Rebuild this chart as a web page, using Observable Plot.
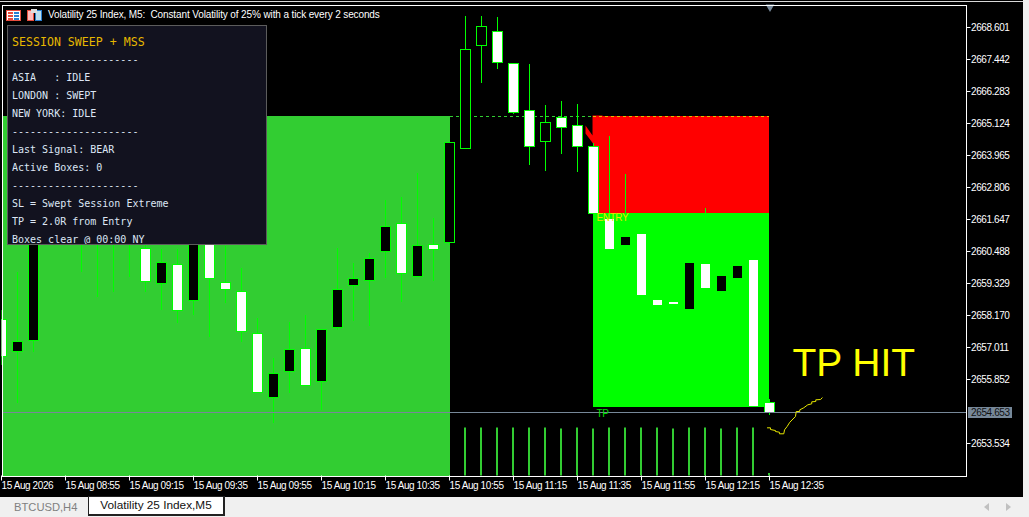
<!DOCTYPE html>
<html><head><meta charset="utf-8">
<script src="https://cdn.jsdelivr.net/npm/d3@7"></script>
<script src="https://cdn.jsdelivr.net/npm/@observablehq/plot@0.6"></script>
<style>
html,body{margin:0;padding:0;background:#f0f0f0;width:1029px;height:517px;overflow:hidden}
#stage{position:relative;width:1029px;height:517px;overflow:hidden}
#chart svg{display:block;background:#000}
.ov{position:absolute;white-space:pre}
#hdr1{left:0;top:1px;width:1023px;height:1px;background:#d8d8d8}
#title{left:48px;top:8px;font:10px/14px "Liberation Sans",sans-serif;letter-spacing:-0.12px;color:#fff}
#panel{left:7px;top:25px;width:258px;height:218px;background:#12121f;border:1px solid #5c5c5c;overflow:hidden;font:10px/18px "DejaVu Sans Mono",monospace;color:#dde6f5}
#panel div{position:absolute;left:4px}
#panel .h{font-size:11.6px;color:#e6b800}
#tab0{left:14px;top:499px;font:11.2px/16px "Liberation Sans",sans-serif;color:#808080}
#tab1{left:88px;top:496px;width:134px;height:17px;background:#fff;border:1px solid #222;border-right-width:2px;border-bottom-width:2px;font:11.8px/17px "Liberation Sans",sans-serif;color:#111;text-align:center}
.arr{top:503px;width:0;height:0;border-top:4px solid transparent;border-bottom:4px solid transparent}
svg text{letter-spacing:-0.4px}
</style></head>
<body>
<div id="stage"><div id="chart"></div></div>
<script>
const opens = [2658.043,2656.884,2657.282,2663.440,2661.810,2661.086,2662.353,2660.977,2662.353,2660.614,2659.311,2660.035,2658.731,2661.194,2659.383,2659.057,2657.500,2655.218,2656.159,2656.992,2655.797,2657.753,2659.274,2659.455,2660.470,2661.484,2659.600,2660.759,2660.832,2664.236,2667.931,2668.474,2667.315,2665.577,2664.490,2665.359,2665.069,2664.309,2661.701,2660.723,2661.158,2658.767,2658.695,2658.405,2660.071,2659.057,2659.492,2660.216,2655.037];
const closes = [2656.703,2657.246,2661.266,2661.991,2663.077,2662.715,2660.904,2662.172,2661.086,2659.419,2660.107,2658.369,2661.086,2659.492,2659.129,2657.608,2655.399,2656.087,2656.956,2655.652,2657.681,2659.129,2659.528,2660.252,2661.411,2659.709,2660.723,2660.578,2664.418,2667.822,2668.655,2667.351,2665.540,2664.273,2665.178,2664.961,2664.309,2661.882,2660.578,2661.049,2658.912,2658.550,2658.586,2660.107,2659.166,2659.636,2659.999,2654.892,2654.674];
const highs = [2658.376,2659.745,2661.556,2664.164,2663.621,2663.440,2663.077,2662.896,2662.715,2660.977,2660.578,2660.578,2661.448,2661.556,2660.687,2659.890,2658.079,2656.630,2657.934,2658.188,2657.681,2660.614,2660.071,2660.433,2662.353,2662.462,2663.331,2661.701,2664.418,2669.017,2669.017,2668.981,2667.315,2667.279,2665.794,2665.939,2665.830,2664.418,2664.671,2663.295,2661.158,2658.912,2658.912,2660.542,2662.063,2660.180,2660.542,2660.904,2655.145];
const lows = [2656.377,2655.000,2656.848,2661.194,2660.977,2659.745,2658.840,2659.021,2659.564,2659.021,2658.369,2657.898,2658.188,2657.391,2658.622,2657.210,2655.399,2654.276,2655.363,2655.652,2654.747,2657.644,2657.970,2657.789,2659.528,2658.659,2659.600,2659.419,2660.723,2664.236,2666.591,2667.098,2665.468,2663.621,2663.403,2664.019,2663.367,2661.882,2660.180,2660.180,2658.912,2658.369,2658.369,2658.006,2658.912,2658.731,2658.912,2654.892,2654.566];
const histTops = [2654.113,2654.113,2654.113,2654.113,2654.113,2654.113,2654.113,2654.077,2654.113,2654.077,2654.113,2654.113,2654.113,2654.113,2654.077,2654.113,2654.113,2654.077,2654.113,2654.113,2652.465];
const histStart = 28;
const linePos = [47.84,48.03,48.03,48.34,48.34,48.59,48.59,48.86,48.91,49.07,49.24,49.59,49.64,49.86,49.86,50.11,50.36,50.61,50.61,50.86,50.86,51.16,51.26];
const linePrice = [2654.120,2654.120,2654.059,2654.022,2653.986,2653.961,2653.903,2653.903,2654.048,2654.167,2654.323,2654.529,2654.711,2654.711,2654.772,2654.845,2654.953,2654.989,2655.062,2655.073,2655.134,2655.145,2655.207];
const priceTicks = [2668.601,2667.442,2666.283,2665.124,2663.965,2662.806,2661.647,2660.488,2659.329,2658.170,2657.011,2655.852,2653.534];
const timeIdx = [0,4,8,12,16,20,24,28,32,36,40,44,48];
const timeLabels = ["15 Aug 2026","15 Aug 08:55","15 Aug 09:15","15 Aug 09:35","15 Aug 09:55","15 Aug 10:15","15 Aug 10:35","15 Aug 10:55","15 Aug 11:15","15 Aug 11:35","15 Aug 11:55","15 Aug 12:15","15 Aug 12:35"];
const lastPrice = 2654.653;
const sessionLevel = 2665.39, entryLevel = 2661.88, tpLevel = 2654.855;
const sessionEnd = 28.03, tradeStart = 36.97, tradeEnd = 47.97;
const panelTitle = "SESSION SWEEP + MSS";
const panelLines = ["---------------------","ASIA   : IDLE","LONDON : SWEPT","NEW YORK: IDLE","---------------------","Last Signal: BEAR","Active Boxes: 0","---------------------","SL = Swept Session Extreme","TP = 2.0R from Entry","Boxes clear @ 00:00 NY"];
const chartTitle = "Volatility 25 Index, M5:  Constant Volatility of 25% with a tick every 2 seconds";

const idx = d3.range(opens.length);
const isWhite = i => closes[i] < opens[i];
const halfBody = 5/16;
const yMin = 2652.375, yMax = 2669.434, xMax = 60.25;
const LIME = "#00ff00", SESSION = "#32cd32", SLATE = "#778899";
const SANS = "'Liberation Sans',sans-serif";
const arrowSymbol = {draw(c,size){
  const s = Math.sqrt(size/Math.PI)/17;
  const pts=[[-5,-17],[5,-17],[5,3],[12,-7],[12,1],[0,17],[-12,1],[-12,-7],[-5,3]];
  pts.forEach((p,k)=> k?c.lineTo(p[0]*s,p[1]*s):c.moveTo(p[0]*s,p[1]*s));
  c.closePath();
}};
const crisp = {shapeRendering:"crispEdges"};
const plot = Plot.plot({
  width:1023,height:497,marginLeft:1.5,marginRight:57.5,marginTop:4.5,marginBottom:21.5,
  x:{domain:[0,xMax]},y:{domain:[yMin,yMax]},
  style:{background:"#000",color:"#fff",fontFamily:SANS,fontSize:"10px"},
  marks:[
    Plot.rect([0],{x1:0,x2:sessionEnd,y1:yMin,y2:sessionLevel,fill:SESSION,...crisp}),
    Plot.ruleX(histTops,{x:(d,k)=>histStart+k,y1:yMin,y2:d=>d,stroke:SESSION,strokeWidth:2,dx:-1}),
    Plot.ruleY([sessionLevel],{x1:sessionEnd,x2:tradeStart,stroke:SESSION,strokeDasharray:"3,3",...crisp}),
    Plot.dot([0],{x:37.22,y:2664.816,r:17,symbol:arrowSymbol,fill:"#f00",stroke:"none"}),
    Plot.rect([0],{x1:tradeStart,x2:tradeEnd,y1:entryLevel,y2:sessionLevel,fill:"#f00",...crisp}),
    Plot.rect([0],{x1:tradeStart,x2:tradeEnd,y1:tpLevel,y2:entryLevel,fill:LIME,...crisp}),
    Plot.ruleY([sessionLevel],{x1:tradeStart,x2:tradeEnd,stroke:"#e0c000",strokeDasharray:"3,3",...crisp}),
    Plot.ruleX(idx,{x:i=>i,y1:i=>lows[i],y2:i=>highs[i],stroke:LIME,dx:-0.5,clip:"frame",...crisp}),
    Plot.rect(idx,{filter:isWhite,x1:i=>i-halfBody,x2:i=>i+halfBody,y1:i=>opens[i],y2:i=>closes[i],fill:"#fff",stroke:LIME,clip:"frame",...crisp}),
    Plot.rect(idx,{filter:i=>!isWhite(i),x1:i=>i-halfBody,x2:i=>i+halfBody,y1:i=>opens[i],y2:i=>closes[i],fill:"#000",stroke:LIME,clip:"frame",...crisp}),
    Plot.ruleY([lastPrice],{stroke:SLATE,dy:-0.5,...crisp}),
    Plot.line(linePos.map((x,k)=>[x,linePrice[k]]),{x:d=>d[0],y:d=>d[1],stroke:"#e6e600",strokeWidth:1,curve:"linear"}),
    Plot.text(["ENTRY"],{x:37.16,y:2661.737,text:d=>d,fill:"#e6e600",textAnchor:"start",fontFamily:SANS,fontSize:10}),
    Plot.text(["TP"],{x:37.16,y:2654.64,text:d=>d,fill:"#00e000",textAnchor:"start",fontFamily:SANS,fontSize:10}),
    Plot.text(["TP HIT"],{x:49.4,y:2656.449,text:d=>d,fill:"#ffff00",textAnchor:"start",fontFamily:SANS,fontSize:39}),
    Plot.dot([0],{x:48,y:yMax,symbol:"triangle",rotate:180,r:3.2,fill:SLATE,stroke:"none",dy:2}),
    Plot.frame({stroke:"#fff",...crisp}),
    Plot.axisY(priceTicks,{anchor:"right",tickSize:4,tickPadding:1,tickFormat:d=>d.toFixed(3),label:null,fontSize:10,dy:-0.5}),
    Plot.axisX(timeIdx,{anchor:"bottom",tickSize:5,tickPadding:1,tickFormat:i=>timeLabels[timeIdx.indexOf(i)],textAnchor:"start",label:null,fontSize:10,dx:-0.5}),
    Plot.rect([0],{x1:60.41,x2:63.16,y1:2654.457,y2:2654.855,fill:SLATE,...crisp}),
    Plot.text([lastPrice],{x:60.57,y:lastPrice,text:d=>d.toFixed(3),fill:"#111",textAnchor:"start",fontSize:10})
  ]
});
d3.select(plot).selectAll("text").filter(function(){return this.textContent==="TP HIT";}).style("letter-spacing","0");
document.getElementById("chart").append(plot);

const stage = document.getElementById("stage");
function ov(id,cls,html){const e=document.createElement("div");if(id)e.id=id;e.className="ov "+(cls||"");e.innerHTML=html||"";stage.append(e);return e;}
ov("hdr1");
ov("title","",chartTitle);
const icons = ov("","",`<svg width="44" height="24" style="display:block"><g shape-rendering="crispEdges">
<rect x="6.5" y="10.5" width="14" height="10" fill="#fff" stroke="#e84c3d"/><rect x="8" y="12" width="5" height="2" fill="#e84c3d"/><rect x="8" y="15" width="5" height="2" fill="#e84c3d"/><rect x="8" y="18" width="5" height="2" fill="#e84c3d"/><rect x="14" y="12" width="5" height="2" fill="#2a7fd0"/><rect x="14" y="15" width="5" height="2" fill="#2a7fd0"/><rect x="14" y="18" width="5" height="2" fill="#2a7fd0"/>
<rect x="27.5" y="10.5" width="6" height="10" fill="#fbb" stroke="#e84c3d"/><rect x="35.5" y="10.5" width="6" height="10" fill="#bde" stroke="#2a7fd0"/><rect x="31" y="9" width="6" height="4" fill="#ddd"/></g></svg>`);
icons.style.cssText="left:0;top:0;overflow:visible";
const panel = ov("panel");
const addLine=(t,cls,k)=>{const d=document.createElement("div");d.textContent=t;if(cls)d.className=cls;d.style.top=(7+18*k)+"px";panel.append(d);};
addLine(panelTitle,"h",0);
panelLines.forEach((t,k)=>addLine(t,"",k+1));
ov("tab0","","BTCUSD,H4");
ov("tab1","","Volatility 25 Index,M5");
const a1=ov("","arr");a1.style.left="984px";a1.style.borderRight="5px solid #c0c0c0";
const a2=ov("","arr");a2.style.left="1006px";a2.style.borderLeft="5px solid #c0c0c0";
</script>
</body></html>
